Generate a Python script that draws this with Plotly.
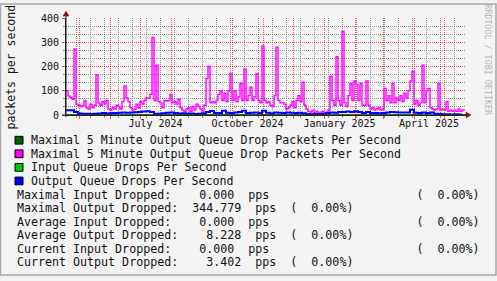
import pandas as pd
import plotly.graph_objects as go

# ---------------- data ----------------
START = "2024-04-18"
END = "2025-05-23"

# Maximal 5 minute output queue drops (pps), one value every 2 days from START
max_out_pps = [
    100, 78, 72, 65, 272, 45, 40, 35, 38, 58,
    30, 25, 45, 30, 40, 165, 50, 40, 55, 45,
    60, 25, 20, 30, 25, 40, 35, 25, 55, 120,
    70, 55, 30, 20, 25, 45, 30, 55, 45, 60,
    70, 70, 85, 320, 60, 205, 55, 50, 30, 60,
    58, 60, 85, 50, 55, 45, 65, 30, 20, 15,
    25, 30, 15, 35, 20, 45, 35, 25, 10, 40,
    150, 200, 50, 55, 50, 60, 85, 100, 60, 90,
    55, 100, 170, 60, 100, 55, 75, 130, 60, 190,
    60, 80, 115, 60, 75, 170, 60, 50, 285, 60,
    50, 55, 40, 35, 80, 280, 60, 50, 50, 45,
    25, 30, 40, 55, 30, 60, 80, 55, 135, 40,
    25, 15, 12, 20, 10, 15, 8, 12, 15, 10,
    12, 20, 160, 60, 40, 240, 60, 40, 345, 50,
    35, 80, 130, 60, 140, 125, 60, 130, 40, 40,
    140, 40, 25, 30, 20, 25, 30, 20, 25, 110,
    60, 80, 50, 130, 50, 70, 60, 80, 55, 90,
    70, 100, 140, 180, 45, 60, 40, 50, 205, 50,
    100, 110, 30, 25, 20, 25, 130, 20, 25, 20,
    55, 15, 20, 15, 20, 15, 25, 15, 20, 25,
]

# Average output queue drops (pps), one value every 4 days from START
avg_out_pps = [
    20, 20, 12, 6, 5, 5, 4, 5, 6, 8,
    6, 8, 8, 9, 10, 9, 10, 11, 12, 14,
    15, 12, 5, 5, 7, 9, 10, 8, 6, 7,
    5, 6, 4, 5, 6, 12, 17, 8, 8, 18,
    9, 8, 10, 12, 18, 8, 9, 10, 8, 18,
    9, 6, 10, 9, 8, 10, 9, 8, 9, 7,
    4, 3, 4, 3, 5, 8, 10, 9, 12, 12,
    14, 12, 15, 12, 8, 12, 8, 8, 7, 8,
    10, 12, 11, 10, 10, 10, 22, 9, 8, 10,
    8, 10, 5, 4, 3, 3, 2, 3, 2, 3.4,
]

# Input queue drops are zero over the whole period
input_dates = [START, END]
max_in_pps = [0, 0]
avg_in_pps = [0, 0]

month_label_dates = ["2024-07-16 12:00", "2024-10-16 12:00", "2025-01-16 12:00", "2025-04-16"]
month_labels = ["July 2024", "October 2024", "January 2025", "April 2025"]

legend_labels = [
    "Maximal 5 Minute Output Queue Drop Packets Per Second",
    "Maximal 5 Minute Output Queue Drop Packets Per Second",
    "Input Queue Drops Per Second",
    "Output Queue Drops Per Second",
]
legend_colors = ["#006600", "#ff00ff", "#00cc00", "#0000ff"]

stat_lines = [
    "Maximal Input Dropped:    0.000  pps                     (  0.00%)",
    "Maximal Output Dropped:  344.779  pps  (  0.00%)",
    "Average Input Dropped:    0.000  pps                     (  0.00%)",
    "Average Output Dropped:    8.228  pps  (  0.00%)",
    "Current Input Dropped:    0.000  pps                     (  0.00%)",
    "Current Output Dropped:    3.402  pps  (  0.00%)",
]

y_title = "packets per second"
watermark = "RRDTOOL / TOBI OETIKER"

# ---------------- layout geometry (pixels) ----------------
W, H = 497, 281
PL, PR, PT, PB = 66, 466, 15, 115   # plot area in pixels
MONO = "DejaVu Sans Mono"
BG = "#f3f3f3"


def px(x):
    return (x - PL) / (PR - PL)


def py(y):
    return (PB - y) / (PB - PT)


max_dates = pd.date_range(START, periods=len(max_out_pps), freq="2D")
avg_dates = pd.date_range(START, periods=len(avg_out_pps), freq="4D")

fig = go.Figure()
fig.add_trace(go.Scatter(x=input_dates, y=max_in_pps, mode="lines", line=dict(color=legend_colors[0], width=1, shape="hv"),
                         xaxis="x2", showlegend=False, hoverinfo="skip"))
fig.add_trace(go.Scatter(x=max_dates, y=max_out_pps, mode="lines", line=dict(color=legend_colors[1], width=1.4, shape="hv"),
                         showlegend=False))
fig.add_trace(go.Scatter(x=input_dates, y=avg_in_pps, mode="lines", line=dict(color=legend_colors[2], width=1, shape="hv"),
                         showlegend=False, hoverinfo="skip"))
fig.add_trace(go.Scatter(x=avg_dates, y=avg_out_pps, mode="lines", line=dict(color=legend_colors[3], width=2, shape="hv"),
                         showlegend=False))

red_grid = "rgba(255,0,0,0.7)"
gray_grid = "rgba(110,110,110,0.8)"

fig.update_layout(
    width=W, height=H, autosize=False,
    margin=dict(l=PL, r=W - PR, t=PT, b=H - PB, pad=0),
    paper_bgcolor=BG, plot_bgcolor=BG,
    font=dict(family=MONO, size=10, color="#111"),
    xaxis=dict(
        type="date", range=[START, END], showticklabels=False,
        tick0="2024-04-28", dtick=14 * 86400000,
        showgrid=True, gridcolor=gray_grid, griddash="1px,1px", gridwidth=1,
        ticks="outside", ticklen=2, tickcolor=gray_grid,
        minor=dict(tick0="2024-05-01", dtick="M1", showgrid=True, gridcolor=red_grid,
                   griddash="1px,1px", gridwidth=1, ticks="outside", ticklen=3, tickcolor=red_grid),
        showline=True, linecolor="#222", linewidth=1, zeroline=False, fixedrange=True,
    ),
    xaxis2=dict(
        type="date", range=[START, END], overlaying="x", anchor="y", side="bottom",
        tickmode="array", tickvals=month_label_dates, ticktext=month_labels,
        showgrid=False, ticks="", showline=False, zeroline=False,
        tickfont=dict(family=MONO, size=10, color="#111"), ticklabelstandoff=1,
    ),
    yaxis=dict(
        range=[0, 400], tick0=0, dtick=100,
        showgrid=True, gridcolor=red_grid, griddash="1px,1px", gridwidth=1,
        ticks="outside", ticklen=3, tickcolor=red_grid,
        minor=dict(dtick=100 / 3, showgrid=True, gridcolor=gray_grid, griddash="1px,1px",
                   ticks="outside", ticklen=2, tickcolor=gray_grid),
        showline=True, linecolor="#222", linewidth=1, zeroline=False,
        tickfont=dict(family=MONO, size=10, color="#111"), ticklabelstandoff=1,
    ),
)

shapes = []
# axis extensions and arrows
shapes.append(dict(type="line", xref="paper", yref="paper", x0=px(66), x1=px(66), y0=py(117), y1=py(10),
                   line=dict(color="#222", width=1)))
shapes.append(dict(type="line", xref="paper", yref="paper", x0=px(62), x1=px(468), y0=py(115), y1=py(115),
                   line=dict(color="#222", width=1)))
shapes.append(dict(type="path", xref="paper", yref="paper",
                   path=f"M {px(63)},{py(13)} L {px(69)},{py(13)} L {px(66)},{py(8)} Z",
                   fillcolor="#8b1010", line=dict(color="#8b1010", width=0.5)))
shapes.append(dict(type="path", xref="paper", yref="paper",
                   path=f"M {px(466)},{py(112)} L {px(466)},{py(118)} L {px(471)},{py(115)} Z",
                   fillcolor="#8b1010", line=dict(color="#8b1010", width=0.5)))
# figure border
shapes.append(dict(type="rect", xref="paper", yref="paper", x0=px(0.5), x1=px(W - 1), y0=py(H - 1), y1=py(0.5),
                   line=dict(color="#a8a8a8", width=1.5), layer="above"))
# legend swatches
row_y = [141, 155, 169, 183]
for c, yy in zip(legend_colors, row_y):
    shapes.append(dict(type="rect", xref="paper", yref="paper", x0=px(15), x1=px(23), y0=py(yy + 4), y1=py(yy - 4),
                       fillcolor=c, line=dict(color="#000", width=1)))
fig.update_layout(shapes=shapes)

NB = "\u00a0"
ann = []
for lab, yy in zip(legend_labels, row_y):
    ann.append(dict(xref="paper", yref="paper", x=px(28.5), y=py(yy), text=lab.replace(" ", NB),
                    xanchor="left", yanchor="middle", showarrow=False,
                    font=dict(family=MONO, size=11.6, color="#111")))
stat_y = [197, 211, 225, 239, 253, 267]
for line, yy in zip(stat_lines, stat_y):
    ann.append(dict(xref="paper", yref="paper", x=px(14.5), y=py(yy), text=line.replace(" ", NB),
                    xanchor="left", yanchor="middle", showarrow=False,
                    font=dict(family=MONO, size=11.65, color="#111")))
ann.append(dict(xref="paper", yref="paper", x=px(10), y=py(65), text=y_title.replace(" ", NB), textangle=-90,
                xanchor="center", yanchor="middle", showarrow=False,
                font=dict(family=MONO, size=11.5, color="#111")))
ann.append(dict(xref="paper", yref="paper", x=px(488.5), y=py(59), text=watermark.replace(" ", NB), textangle=90,
                xanchor="center", yanchor="middle", showarrow=False,
                font=dict(family=MONO, size=8.4, color="#b8b8b8")))
fig.update_layout(annotations=ann)

fig.write_html("out.html")
